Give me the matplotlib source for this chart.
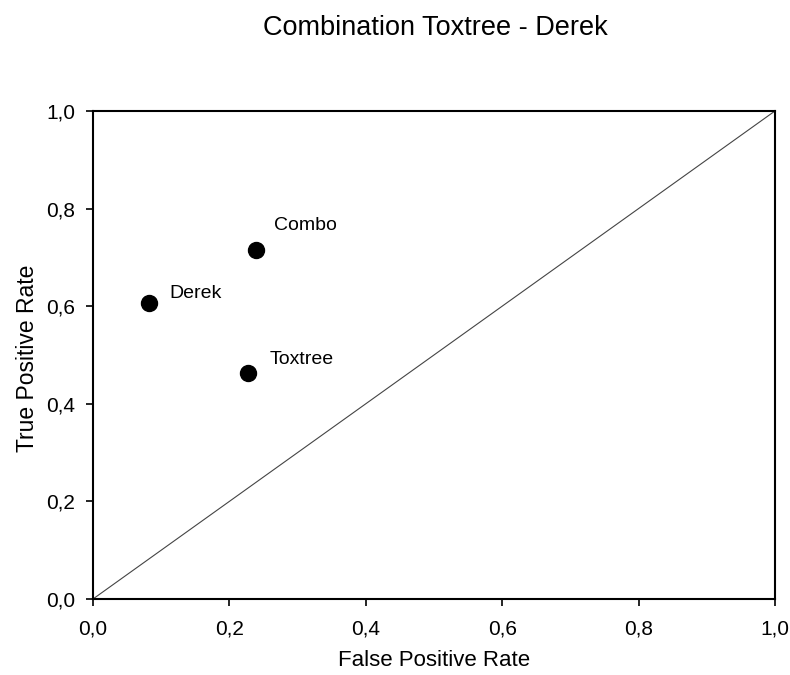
import matplotlib
matplotlib.use("Agg")
import matplotlib.pyplot as plt
from matplotlib.ticker import FuncFormatter

plt.rcParams['font.family'] = ['Liberation Sans', 'DejaVu Sans']

names = ["Derek", "Combo", "Toxtree"]
fpr = [0.082, 0.239, 0.227]
tpr = [0.607, 0.715, 0.463]
label_offsets = [(14.4, 7), (13, 18), (16, 9.4)]
ticks = [0.0, 0.2, 0.4, 0.6, 0.8, 1.0]

fig = plt.figure(figsize=(7.9, 6.75), dpi=100)
ax = fig.add_axes([0.1177, 0.1126, 0.8633, 0.723])

ax.plot([0, 1], [0, 1], color='#444444', lw=0.8)
ax.plot(fpr, tpr, 'o', color='black', markersize=11.5, linestyle='none')
for n, x, y, off in zip(names, fpr, tpr, label_offsets):
    ax.annotate(n, (x, y), xytext=off, textcoords='offset points',
                fontsize=14, ha='left', va='center')

ax.set_xlim(0, 1)
ax.set_ylim(0, 1)
ax.set_xticks(ticks)
ax.set_yticks(ticks)
fmt = FuncFormatter(lambda v, p: f"{v:.1f}".replace('.', ','))
ax.xaxis.set_major_formatter(fmt)
ax.yaxis.set_major_formatter(fmt)
ax.tick_params(direction='out', length=5, width=1.2, labelsize=15)
ax.tick_params(axis='x', pad=10)
ax.tick_params(axis='y', pad=8)
for s in ax.spines.values():
    s.set_linewidth(1.5)

fig.text(434/790, 1 - 660/675, "False Positive Rate", fontsize=16,
         ha='center', va='center')
fig.text(28/790, 1 - 358/675, "True Positive Rate", fontsize=16.5,
         ha='center', va='center', rotation=90)
fig.text(435/790, 1 - 28/675, "Combination Toxtree - Derek", fontsize=19.5,
         ha='center', va='center')

fig.savefig("out.png", dpi=100)
